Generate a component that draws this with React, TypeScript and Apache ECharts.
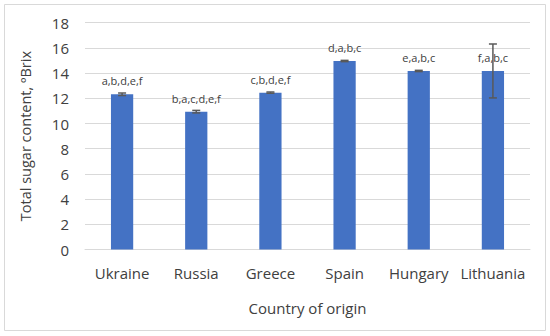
import React, { useEffect, useRef } from "react";
import * as echarts from "echarts";

const categories = ["Ukraine", "Russia", "Greece", "Spain", "Hungary", "Lithuania"];
const values = [12.32, 10.94, 12.45, 14.96, 14.17, 14.17];
const errors = [0.1, 0.1, 0.05, 0.05, 0.05, 2.14];
const letters = ["a,b,d,e,f", "b,a,c,d,e,f", "c,b,d,e,f", "d,a,b,c", "e,a,b,c", "f,a,b,c"];
const yTicks = { min: 0, max: 18, interval: 2 };

const FONT = "'Open Sans', 'Noto Sans', sans-serif";
const TXT = "#404040";

export default function App() {
  const ref = useRef<HTMLDivElement>(null);
  useEffect(() => {
    if (!ref.current) return;
    const chart = echarts.init(ref.current, null, { renderer: "svg" });
    const errData = values.map((v, i) => [i, v - errors[i], v + errors[i]]);
    chart.setOption({
      animation: false,
      textStyle: { fontFamily: FONT },
      graphic: [
        {
          type: "rect",
          shape: { x: 4.5, y: 4.5, width: 541, height: 326 },
          style: { fill: "#fff", stroke: "#d9d9d9", lineWidth: 1 },
          z: -10,
          silent: true,
        },
      ],
      grid: { left: 85, right: 20, top: 22.7, bottom: 86.5, containLabel: false },
      xAxis: {
        type: "category",
        data: categories,
        axisLine: { show: true, lineStyle: { color: "#d9d9d9", width: 1 } },
        axisTick: { show: false },
        axisLabel: { color: TXT, fontSize: 15, margin: 16, fontFamily: FONT, interval: 0 },
        name: "Country of origin",
        nameLocation: "middle",
        nameGap: 51,
        nameTextStyle: { color: TXT, fontSize: 15, fontFamily: FONT },
      },
      yAxis: {
        type: "value",
        min: yTicks.min,
        max: yTicks.max,
        interval: yTicks.interval,
        axisLine: { show: false },
        axisTick: { show: false },
        splitLine: { lineStyle: { color: "#d9d9d9", width: 1 } },
        axisLabel: { color: TXT, fontSize: 15, margin: 16, fontFamily: FONT },
        name: "Total sugar content, ºBrix",
        nameLocation: "middle",
        nameGap: 52,
        nameTextStyle: { color: TXT, fontSize: 14.5, fontFamily: FONT },
      },
      series: [
        {
          type: "bar",
          data: values,
          barWidth: "30%",
          itemStyle: { color: "#4472C4" },
          label: {
            show: true,
            position: "top",
            distance: 8,
            fontSize: 11,
            color: TXT,
            fontFamily: FONT,
            formatter: (p: any) => letters[p.dataIndex],
          },
          z: 2,
        },
        {
          type: "custom",
          data: errData,
          z: 3,
          renderItem: (params: any, api: any) => {
            const x = api.value(0);
            const lo = api.coord([x, api.value(1)]);
            const hi = api.coord([x, api.value(2)]);
            const cap = 4;
            const style = { stroke: "#595959", lineWidth: 1.5 };
            return {
              type: "group",
              children: [
                { type: "line", shape: { x1: hi[0], y1: hi[1], x2: lo[0], y2: lo[1] }, style },
                { type: "line", shape: { x1: hi[0] - cap, y1: hi[1], x2: hi[0] + cap, y2: hi[1] }, style },
                { type: "line", shape: { x1: lo[0] - cap, y1: lo[1], x2: lo[0] + cap, y2: lo[1] }, style },
              ],
            };
          },
        },
      ],
    });
    return () => chart.dispose();
  }, []);
  return <div ref={ref} style={{ width: 550, height: 336, position: "absolute", left: 0, top: 0 }} />;
}
